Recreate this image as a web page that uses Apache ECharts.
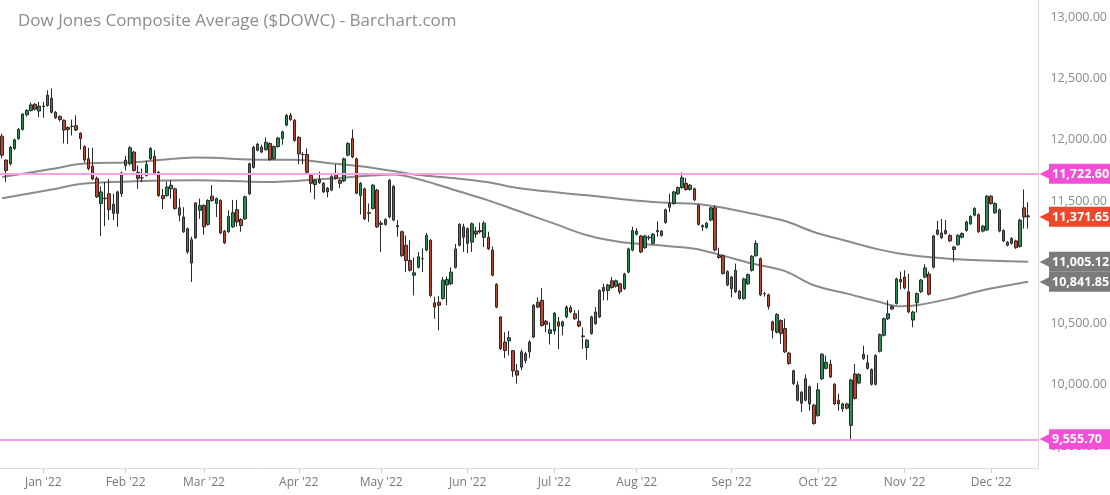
<!DOCTYPE html>
<html>
<head>
<meta charset="utf-8">
<script src="https://cdn.jsdelivr.net/npm/echarts@6/dist/echarts.min.js"></script>
<style>
html,body{margin:0;padding:0;background:#fff;}
#chart{width:1110px;height:495px;}
</style>
</head>
<body>
<div id="chart"></div>
<script>
// Trading days (Dec 17 2021 .. Dec 14 2022) plus two empty slots on the right
const dates = [
'2021-12-17','2021-12-20','2021-12-21','2021-12-22','2021-12-23','2021-12-27','2021-12-28','2021-12-29','2021-12-30','2021-12-31',
'2022-01-03','2022-01-04','2022-01-05','2022-01-06','2022-01-07','2022-01-10','2022-01-11','2022-01-12','2022-01-13','2022-01-14',
'2022-01-18','2022-01-19','2022-01-20','2022-01-21','2022-01-24','2022-01-25','2022-01-26','2022-01-27','2022-01-28','2022-01-31',
'2022-02-01','2022-02-02','2022-02-03','2022-02-04','2022-02-07','2022-02-08','2022-02-09','2022-02-10','2022-02-11','2022-02-14',
'2022-02-15','2022-02-16','2022-02-17','2022-02-18','2022-02-22','2022-02-23','2022-02-24','2022-02-25','2022-02-28','2022-03-01',
'2022-03-02','2022-03-03','2022-03-04','2022-03-07','2022-03-08','2022-03-09','2022-03-10','2022-03-11','2022-03-14','2022-03-15',
'2022-03-16','2022-03-17','2022-03-18','2022-03-21','2022-03-22','2022-03-23','2022-03-24','2022-03-25','2022-03-28','2022-03-29',
'2022-03-30','2022-03-31','2022-04-01','2022-04-04','2022-04-05','2022-04-06','2022-04-07','2022-04-08','2022-04-11','2022-04-12',
'2022-04-13','2022-04-14','2022-04-18','2022-04-19','2022-04-20','2022-04-21','2022-04-22','2022-04-25','2022-04-26','2022-04-27',
'2022-04-28','2022-04-29','2022-05-02','2022-05-03','2022-05-04','2022-05-05','2022-05-06','2022-05-09','2022-05-10','2022-05-11',
'2022-05-12','2022-05-13','2022-05-16','2022-05-17','2022-05-18','2022-05-19','2022-05-20','2022-05-23','2022-05-24','2022-05-25',
'2022-05-26','2022-05-27','2022-05-31','2022-06-01','2022-06-02','2022-06-03','2022-06-06','2022-06-07','2022-06-08','2022-06-09',
'2022-06-10','2022-06-13','2022-06-14','2022-06-15','2022-06-16','2022-06-17','2022-06-21','2022-06-22','2022-06-23','2022-06-24',
'2022-06-27','2022-06-28','2022-06-29','2022-06-30','2022-07-01','2022-07-05','2022-07-06','2022-07-07','2022-07-08','2022-07-11',
'2022-07-12','2022-07-13','2022-07-14','2022-07-15','2022-07-18','2022-07-19','2022-07-20','2022-07-21','2022-07-22','2022-07-25',
'2022-07-26','2022-07-27','2022-07-28','2022-07-29','2022-08-01','2022-08-02','2022-08-03','2022-08-04','2022-08-05','2022-08-08',
'2022-08-09','2022-08-10','2022-08-11','2022-08-12','2022-08-15','2022-08-16','2022-08-17','2022-08-18','2022-08-19','2022-08-22',
'2022-08-23','2022-08-24','2022-08-25','2022-08-26','2022-08-29','2022-08-30','2022-08-31','2022-09-01','2022-09-02','2022-09-06',
'2022-09-07','2022-09-08','2022-09-09','2022-09-12','2022-09-13','2022-09-14','2022-09-15','2022-09-16','2022-09-19','2022-09-20',
'2022-09-21','2022-09-22','2022-09-23','2022-09-26','2022-09-27','2022-09-28','2022-09-29','2022-09-30','2022-10-03','2022-10-04',
'2022-10-05','2022-10-06','2022-10-07','2022-10-10','2022-10-11','2022-10-12','2022-10-13','2022-10-14','2022-10-17','2022-10-18',
'2022-10-19','2022-10-20','2022-10-21','2022-10-24','2022-10-25','2022-10-26','2022-10-27','2022-10-28','2022-10-31','2022-11-01',
'2022-11-02','2022-11-03','2022-11-04','2022-11-07','2022-11-08','2022-11-09','2022-11-10','2022-11-11','2022-11-14','2022-11-15',
'2022-11-16','2022-11-17','2022-11-18','2022-11-21','2022-11-22','2022-11-23','2022-11-25','2022-11-28','2022-11-29','2022-11-30',
'2022-12-01','2022-12-02','2022-12-05','2022-12-06','2022-12-07','2022-12-08','2022-12-09','2022-12-12','2022-12-13','2022-12-14',
'2022-12-15','2022-12-16'
];

const open = [
12030,11835,11805,11930,12010,12085,12205,12240,12290,12235,
12270,12280,12340,12225,12190,12160,12085,12110,12115,12055,
11945,11845,11785,11685,11480,11520,11560,11475,11400,11560,
11790,11805,11900,11735,11690,11710,11845,11865,11735,11545,
11545,11600,11600,11445,11370,11275,10995,11200,11425,11465,
11310,11540,11480,11505,11255,11250,11290,11430,11350,11355,
11560,11775,11915,11940,11920,11970,11845,11945,12010,12120,
12200,12160,12020,11880,11880,11710,11635,11650,11645,11605,
11590,11725,11670,11665,11875,12010,11845,11545,11600,11405,
11440,11590,11320,11310,11370,11620,11290,11250,11140,11015,
10895,10960,11030,11100,11180,10670,10675,10705,10815,10825,
10960,11140,11290,11275,11165,11255,11250,11205,11205,11100,
10820,10555,10350,10360,10280,10115,10145,10200,10270,10390,
10675,10690,10520,10420,10440,10515,10480,10555,10630,10580,
10520,10400,10305,10420,10595,10555,10765,10770,10850,10805,
10825,10785,10920,11100,11230,11215,11120,11200,11155,11260,
11255,11325,11450,11480,11560,11610,11645,11595,11600,11465,
11300,11285,11345,11445,11055,11055,10925,10785,10935,10765,
10705,10825,10935,11055,11030,10745,10735,10515,10430,10525,
10460,10260,10115,10000,9940,9875,9985,9835,9750,10050,
10135,10170,10005,9875,9805,9845,9670,10090,10015,10250,
10180,10125,10005,10275,10405,10540,10640,10665,10860,10880,
10760,10530,10670,10760,10880,10905,10960,11230,11240,11260,
11220,11105,11145,11205,11260,11315,11385,11390,11255,11265,
11540,11405,11430,11260,11165,11155,11175,11130,11445,11380
];
const close = [
11875,11750,11940,12000,12085,12210,12240,12285,12250,12275,
12275,12365,12225,12180,12165,12080,12100,12110,12080,12010,
11835,11765,11680,11535,11575,11525,11430,11400,11575,11730,
11835,11935,11750,11685,11690,11800,11930,11725,11545,11520,
11615,11630,11440,11385,11250,11085,11185,11485,11465,11290,
11505,11505,11520,11240,11160,11375,11405,11330,11300,11535,
11805,11940,11965,11900,11980,11840,11945,12015,12065,12200,
12165,11995,11885,11880,11735,11645,11670,11675,11575,11575,
11700,11685,11645,11845,11970,11860,11565,11645,11355,11400,
11630,11290,11310,11350,11670,11345,11300,11055,11015,10935,
10915,11045,11030,11220,10730,10635,10650,10855,10860,10920,
11110,11310,11205,11155,11315,11230,11260,11320,11110,10895,
10635,10295,10280,10385,10115,10080,10270,10255,10350,10650,
10635,10485,10495,10450,10585,10480,10515,10635,10595,10540,
10480,10395,10365,10555,10500,10770,10795,10815,10795,10850,
10760,10905,11110,11260,11255,11085,11215,11205,11230,11250,
11220,11430,11480,11575,11610,11690,11595,11630,11510,11310,
11290,11320,11445,11100,11040,10910,10815,10880,10760,10705,
10865,10900,11050,11155,10735,10745,10640,10445,10575,10420,
10270,10175,10010,9875,9850,10050,9845,9685,9960,10250,
10185,10065,9845,9845,9845,9810,10040,9890,10085,10215,
10135,10005,10240,10410,10540,10580,10620,10865,10840,10790,
10595,10595,10745,10855,10955,10740,11215,11265,11200,11235,
11175,11125,11220,11235,11330,11375,11440,11250,11295,11540,
11480,11480,11255,11175,11140,11195,11120,11345,11370,11371.65
];
const low = [
11850,11655,11790,11915,12000,12075,12190,12230,12240,12185,
12180,12270,12215,12170,12150,11970,11965,12035,12070,11920,
11815,11750,11670,11525,11215,11295,11345,11345,11290,11535,
11750,11790,11740,11600,11655,11700,11835,11715,11535,11435,
11535,11520,11430,11335,11240,11070,10840,11190,11355,11225,
11300,11495,11370,11230,11150,11240,11280,11290,11250,11345,
11550,11765,11905,11890,11910,11830,11835,11935,11960,12110,
12155,11985,11800,11800,11715,11570,11515,11640,11565,11530,
11580,11675,11605,11655,11865,11850,11555,11390,11345,11330,
11430,11280,11085,11300,11360,11335,11210,11045,10920,10925,
10730,10950,10920,11090,10715,10540,10445,10695,10650,10815,
10950,11130,11085,11075,11085,11200,11235,11125,11100,10885,
10625,10285,10220,10240,10065,10010,10120,10175,10220,10380,
10625,10475,10430,10330,10410,10290,10405,10545,10585,10530,
10470,10295,10205,10410,10490,10545,10690,10690,10785,10795,
10740,10775,10910,11090,11220,11075,11110,11180,11145,11210,
11210,11315,11410,11470,11550,11600,11585,11585,11500,11300,
11255,11275,11335,11090,11030,10900,10805,10715,10750,10695,
10695,10815,10925,11045,10725,10720,10615,10380,10420,10335,
10260,10165,10000,9865,9780,9865,9790,9675,9740,10040,
10125,10055,9835,9790,9780,9800,9555.7,9880,10005,10205,
10125,9995,9995,10265,10395,10530,10610,10655,10780,10780,
10585,10470,10590,10750,10870,10730,10950,11220,11190,11225,
11165,11005,11135,11195,11250,11305,11375,11240,11245,11255,
11470,11395,11245,11165,11130,11145,11110,11120,11275,11275
];
const high = [
12050,11840,11950,12010,12095,12215,12250,12305,12300,12310,
12310,12405,12420,12235,12200,12165,12110,12165,12200,12060,
11955,11935,11935,11700,11620,11655,11680,11560,11585,11740,
11870,11950,11910,11790,11765,11830,11940,11915,11745,11600,
11660,11670,11610,11520,11450,11285,11210,11490,11520,11475,
11515,11630,11530,11515,11265,11425,11510,11510,11360,11545,
11815,11950,11975,11960,12020,11980,11955,12025,12075,12210,
12220,12170,12030,11900,11930,11720,11680,11740,11655,11615,
11730,11800,11680,11855,11980,12085,11855,11655,11610,11480,
11640,11600,11340,11360,11680,11630,11345,11260,11220,11180,
11040,11085,11115,11240,11190,10720,10725,10880,10885,10960,
11150,11320,11315,11285,11325,11290,11325,11335,11250,11130,
10830,10560,10430,10440,10285,10170,10290,10270,10365,10660,
10715,10790,10530,10510,10595,10555,10525,10650,10650,10610,
10610,10470,10375,10565,10635,10780,10825,10825,10880,10860,
10835,10915,11120,11290,11280,11225,11225,11220,11240,11335,
11265,11440,11560,11585,11620,11735,11690,11640,11610,11475,
11310,11330,11455,11465,11120,11065,10935,10890,10990,10775,
10875,10910,11060,11180,11040,10760,10745,10525,10585,10535,
10540,10270,10125,10030,9950,10085,9995,9845,10015,10260,
10240,10205,10015,9930,9855,9855,10050,10170,10095,10320,
10245,10135,10250,10420,10550,10690,10650,10875,10925,10935,
10905,10605,10755,10865,10985,10925,11225,11340,11355,11345,
11230,11135,11230,11245,11340,11385,11450,11400,11305,11550,
11550,11490,11440,11270,11175,11205,11185,11355,11595,11490
];

// Moving averages at sample dates
const ma200Dates = ['2021-12-17','2022-01-05','2022-01-18','2022-02-03','2022-02-25','2022-03-22','2022-03-31','2022-04-12','2022-04-25','2022-05-05','2022-05-16','2022-05-26','2022-06-08','2022-06-21','2022-07-14','2022-08-05','2022-08-19','2022-08-29','2022-09-09','2022-09-21','2022-09-30','2022-10-12','2022-10-24','2022-10-31','2022-11-10','2022-11-22','2022-12-14'];
const ma200Vals  = [11696,11762,11806,11816,11855,11838,11838,11811,11784,11745,11710,11686,11653,11602,11547,11492,11479,11452,11398,11337,11248,11174,11104,11071,11039,11022,11005.12];
const ma100Dates = ['2021-12-17','2022-01-05','2022-01-18','2022-02-03','2022-02-25','2022-03-22','2022-04-12','2022-04-25','2022-05-05','2022-05-16','2022-05-26','2022-06-08','2022-06-21','2022-07-01','2022-07-14','2022-07-26','2022-08-05','2022-08-19','2022-08-29','2022-09-09','2022-09-21','2022-09-30','2022-10-12','2022-10-24','2022-10-31','2022-11-04','2022-11-16','2022-11-29','2022-12-08','2022-12-14'];
const ma100Vals  = [11523,11594,11643,11661,11670,11656,11683,11702,11718,11670,11588,11506,11411,11316,11221,11166,11143,11112,11063,10990,10929,10813,10745,10676,10641,10650,10704,10772,10818,10841.85];

const resistance = 11722.60;
const support = 9555.70;
const lastPrice = 11371.65;
const monthNames = ['Jan','Feb','Mar','Apr','May','Jun','Jul','Aug','Sep','Oct','Nov','Dec'];

const FONT = "'Open Sans', 'DejaVu Sans', sans-serif";
const fmt = v => Number(v).toLocaleString('en-US', {minimumFractionDigits: 2, maximumFractionDigits: 2});

const candleData = dates.map((d, i) => i < open.length ? [open[i], close[i], low[i], high[i]] : '-');
const ma200 = ma200Dates.map((d, i) => [d, ma200Vals[i]]);
const ma100 = ma100Dates.map((d, i) => [d, ma100Vals[i]]);

function isMonthStart(idx) {
  if (idx === 0 || idx >= dates.length) return false;
  return dates[idx].slice(5, 7) !== dates[idx - 1].slice(5, 7);
}

function tag(color) {
  return {
    show: true,
    position: 'end',
    distance: 1,
    formatter: p => '{a|◀}{b|' + fmt(p.value) + '}',
    rich: {
      a: { color: color, fontSize: 15, fontFamily: 'DejaVu Sans', padding: [0, -2, 0, 0] },
      b: { backgroundColor: color, color: '#fff', fontWeight: 'bold', fontSize: 12.5,
           fontFamily: FONT, padding: [4, 8, 3, 3], lineHeight: 13 }
    }
  };
}
const hiddenLine = { color: 'rgba(255,255,255,0)', width: 0.01, type: 'solid' };

const chart = echarts.init(document.getElementById('chart'), null, {renderer: 'canvas'});
chart.setOption({
  animation: false,
  backgroundColor: '#fff',
  title: {
    text: 'Dow Jones Composite Average ($DOWC) - Barchart.com',
    left: 13, top: 8,
    textStyle: { fontFamily: FONT, fontSize: 17, fontWeight: 'normal', color: '#8c8c8c' }
  },
  grid: { left: 0, right: 70, top: 0, bottom: 27, containLabel: false },
  xAxis: {
    type: 'category',
    data: dates,
    boundaryGap: true,
    axisLine: { show: true, lineStyle: { color: '#dcdcdc', width: 1 } },
    axisTick: { show: true, alignWithLabel: true, interval: (i) => isMonthStart(i), length: 5, lineStyle: { color: '#cfcfcf' } },
    axisLabel: {
      interval: (i) => isMonthStart(i),
      formatter: v => monthNames[+v.slice(5, 7) - 1] + " '" + v.slice(2, 4),
      color: '#777', fontSize: 12, fontFamily: FONT, margin: 9
    },
    splitLine: { show: false }
  },
  yAxis: {
    type: 'value',
    position: 'right',
    min: 9322,
    max: 13141,
    minInterval: 500,
    maxInterval: 500,
    axisLine: { show: true, lineStyle: { color: '#dcdcdc' } },
    axisTick: { show: false },
    splitLine: { show: false },
    axisLabel: {
      showMinLabel: false, showMaxLabel: false,
      formatter: v => fmt(v),
      color: '#8a8a8a', fontSize: 12.5, fontFamily: FONT, margin: 12
    }
  },
  series: [
    {
      name: 'MA200', type: 'line', data: ma200, smooth: 0.35, showSymbol: false, z: 1,
      lineStyle: { color: '#8b8b8b', width: 2 }
    },
    {
      name: 'MA100', type: 'line', data: ma100, smooth: 0.35, showSymbol: false, z: 1,
      lineStyle: { color: '#8b8b8b', width: 2 }
    },
    {
      name: '$DOWC', type: 'candlestick', data: candleData, barWidth: 3, z: 3,
      itemStyle: {
        color: '#23904f', color0: '#c0442c',
        borderColor: '#2a2a2a', borderColor0: '#2a2a2a', borderWidth: 1
      },
      markLine: {
        symbol: ['none', 'none'],
        silent: true,
        animation: false,
        data: [
          { yAxis: resistance, lineStyle: { color: '#f3a2ea', width: 2, type: 'solid' }, label: tag('#f24fd6') },
          { yAxis: support, lineStyle: { color: '#f3a2ea', width: 2, type: 'solid' }, label: tag('#f24fd6') },
          { yAxis: lastPrice, lineStyle: hiddenLine, label: tag('#ea4a2b') },
          { yAxis: ma200Vals[ma200Vals.length - 1], lineStyle: hiddenLine, label: tag('#7b7b7b') },
          { yAxis: ma100Vals[ma100Vals.length - 1], lineStyle: hiddenLine, label: tag('#7b7b7b') }
        ]
      }
    }
  ]
});
</script>
</body>
</html>
